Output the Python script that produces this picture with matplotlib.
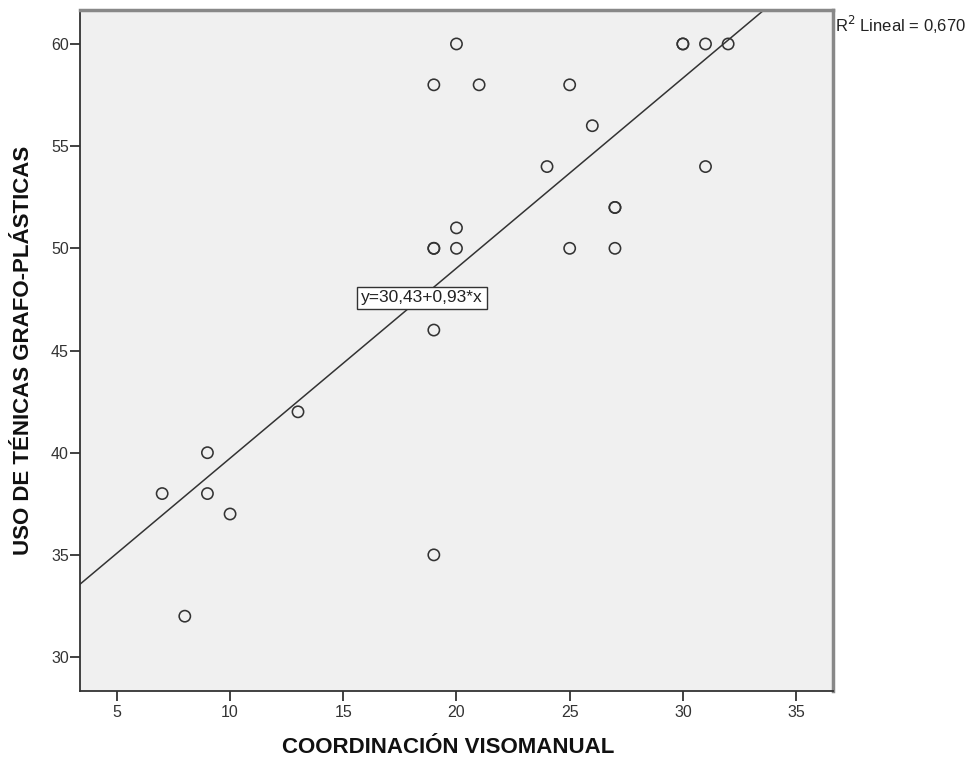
import matplotlib
matplotlib.use("Agg")
import matplotlib.pyplot as plt
import numpy as np

plt.rcParams['font.family'] = ['Liberation Sans', 'DejaVu Sans']

# Data (duplicates drawn on top of each other)
coord_visomanual = [7, 8, 9, 9, 10, 13, 19, 19, 19, 19, 19, 20, 20, 20, 21,
                    24, 25, 25, 26, 27, 27, 27, 30, 30, 31, 31, 32]
uso_tecnicas = [38, 32, 40, 38, 37, 42, 58, 50, 50, 46, 35, 60, 51, 50, 58,
                54, 58, 50, 56, 52, 52, 50, 60, 60, 60, 54, 60]

intercept = 30.43
slope = 0.93
r2_text = "R$^2$ Lineal = 0,670"
eq_text = "y=30,43+0,93*x"

x_ticks = [5, 10, 15, 20, 25, 30, 35]
y_ticks = [30, 35, 40, 45, 50, 55, 60]
x_lim = (3.37, 36.63)
y_lim = (28.34, 61.66)

fig = plt.figure(figsize=(9.67, 7.59), dpi=100)
ax = fig.add_axes([0.0827, 0.0896, 0.7787, 0.8972])
ax.set_facecolor('#f0f0f0')

ax.set_xlim(*x_lim)
ax.set_ylim(*y_lim)

xs = np.array(x_lim)
ax.plot(xs, intercept + slope * xs, color='#333333', lw=1.1, zorder=2)

ax.scatter(coord_visomanual, uso_tecnicas, s=66, facecolors='none',
           edgecolors='#333333', linewidths=1.15, zorder=3)

ax.text(18.48, 47.57, eq_text, fontsize=12.5, ha='center', va='center',
        color='#222222', zorder=4,
        bbox=dict(boxstyle='square,pad=0.22', facecolor='white',
                  edgecolor='#333333', linewidth=1))

fig.text(0.8635, 0.967, r2_text, fontsize=12, ha='left', va='center',
         color='#222222')

ax.set_xticks(x_ticks)
ax.set_yticks(y_ticks)
ax.tick_params(axis='both', direction='out', length=7, width=1.3,
               colors='#333333', labelsize=11.5, labelcolor='#333333')
ax.tick_params(axis='x', pad=3)
ax.tick_params(axis='y', pad=1)

for side in ['left', 'bottom']:
    ax.spines[side].set_color('#333333')
    ax.spines[side].set_linewidth(1.3)
for side in ['top', 'right']:
    ax.spines[side].set_color('#888888')
    ax.spines[side].set_linewidth(2.5)

fig.text(0.4635, 0.0145, "COORDINACIÓN VISOMANUAL", fontsize=16,
         fontweight='bold', ha='center', va='center', color='#111111')
fig.text(0.0238, 0.539, "USO DE TÉNICAS GRAFO-PLÁSTICAS", fontsize=16,
         fontweight='bold', ha='center', va='center', rotation=90,
         color='#111111')

fig.savefig('out.png', dpi=100)
